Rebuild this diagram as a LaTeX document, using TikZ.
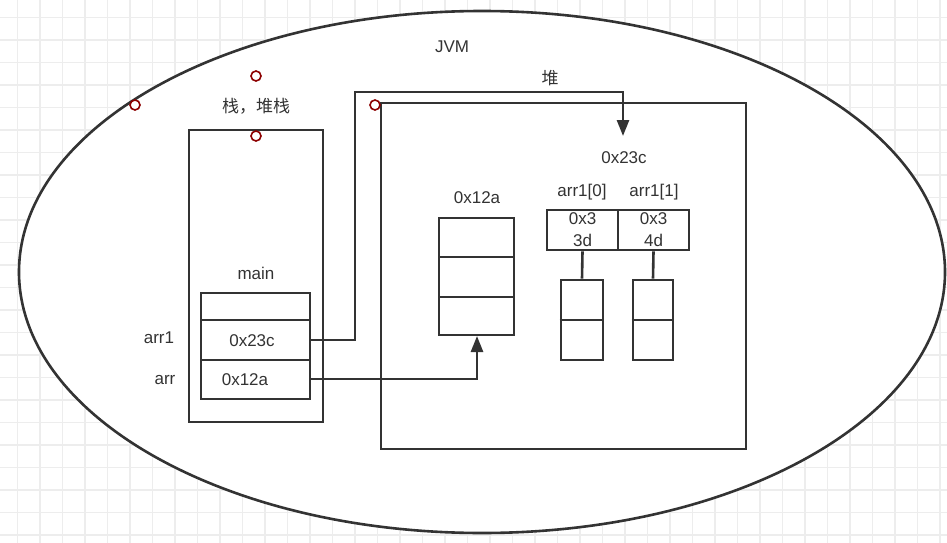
\documentclass[tikz,border=0pt]{standalone}
\usepackage{fontspec}
\setmainfont{Liberation Sans}
\newfontfamily\cjk{Noto Sans CJK SC}
\usetikzlibrary{arrows.meta,positioning}
\tikzset{>/.tip={Triangle[length=16pt,width=12pt]}}
\tikzset{box/.style={draw=black!80,line width=2.6pt},
  lbl/.style={font=\fontsize{17}{19}\selectfont,text=black!80},
  pin/.style={circle,draw=red!55!black,line width=1.6pt,minimum size=10pt,inner sep=0pt,fill=white}}
\begin{document}
\begin{tikzpicture}[x=1pt,y=-1pt]
  \useasboundingbox (0,0) rectangle (947,543);
  % background grid
  \foreach \g in {0,...,42}{\draw[black!7,line width=1.2pt] (17.5+22.5*\g,0) -- (17.5+22.5*\g,543);}
  \foreach \g in {0,...,24}{\draw[black!7,line width=1.2pt] (0,17.5+22.5*\g) -- (947,17.5+22.5*\g);}
  \draw[box,fill=white] (482,272) ellipse [x radius=463,y radius=261];
  \node[lbl] (jvm) at (452,47) {JVM};
  % stack
  \draw[box] (189,130) rectangle (323,422);
  \node[lbl] (stk) at (256,106) {\cjk 栈，堆栈};
  \node[lbl] (main) at (256,273) {main};
  \draw[box] (201,293) rectangle (310,399);
  \draw[box] (201,320) -- (310,320) (201,360) -- (310,360);
  \coordinate (c23) at (310,340);
  \coordinate (c12) at (310,379);
  \node[lbl] (v23) at (252,341) {0x23c};
  \node[lbl] (v12) at (245,380) {0x12a};
  \node[lbl] (arr1) at (159,338) {arr1};
  \node[lbl] (arr) at (165,380) {arr};
  % heap
  \draw[box] (381,103) rectangle (746,449);
  \node[lbl] (heap) at (550,78) {\cjk 堆};
  % array 0x12a
  \node[lbl] (a12) at (477,198) {0x12a};
  \draw[box] (439,218) rectangle (514,335);
  \draw[box] (439,257) -- (514,257) (439,297) -- (514,297);
  \coordinate (a12b) at (477,336);
  % array 0x23c
  \node[lbl] (a23) at (624,158) {0x23c};
  \coordinate (a23t) at (623,136);
  \node[lbl] (i0) at (582,192) {arr1[0]};
  \node[lbl] (i1) at (654,192) {arr1[1]};
  \node[box,minimum width=71pt,minimum height=40pt,inner sep=0pt,lbl,align=center,font=\fontsize{17}{22}\selectfont] (e0) at (582.5,230) {0x3\\3d};
  \node[box,minimum width=71pt,minimum height=40pt,inner sep=0pt,lbl,align=center,font=\fontsize{17}{22}\selectfont] (e1) at (653.5,230) {0x3\\4d};
  \node[box,minimum width=42pt,minimum height=80pt,inner sep=0pt] (s0) at (582,320) {};
  \node[box,minimum width=40pt,minimum height=80pt,inner sep=0pt] (s1) at (653,320) {};
  \draw[box] (s0.west) -- (s0.east) (s1.west) -- (s1.east);
  \draw[box] (e0.south) -- (s0.north);
  \draw[box] (e1.south) -- (s1.north);
  % references
  \draw[box,->] (c23) -- (355,340) -- (355,92) -- (623,92) -- (a23t);
  \draw[box,->] (c12) -- (477,379) -- (a12b);
  % handles
  \node[pin] (p1) at (135,105) {};
  \node[pin] (p2) at (256,76) {};
  \node[pin] (p3) at (256,136) {};
  \node[pin] (p4) at (375,105) {};
\end{tikzpicture}
\end{document}
